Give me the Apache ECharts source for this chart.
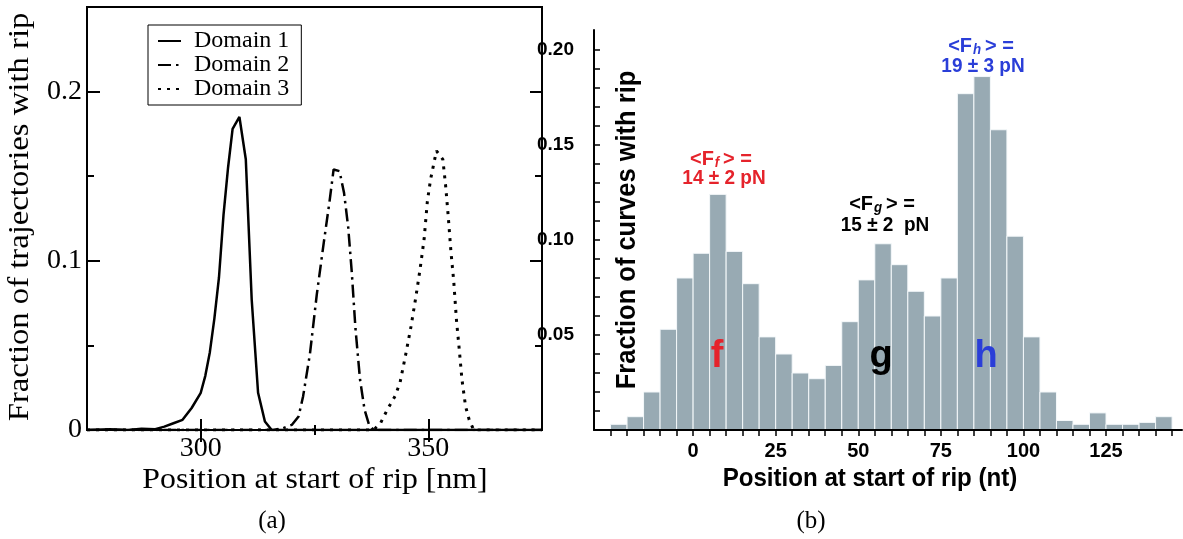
<!DOCTYPE html>
<html><head><meta charset="utf-8">
<script src="https://cdn.jsdelivr.net/npm/echarts@6/dist/echarts.min.js"></script>
<style>html,body{margin:0;padding:0;background:#fff}#c{width:1183px;height:539px}</style>
</head><body><div id="c"></div>
<script>
// ---------- (a) rip-position distributions: [position nm, fraction] ----------
const domain1 = [[275,0],[280,0.0005],[284,0],[287,0.0008],[290,0.0005],[292,0.002],[294,0.004],[296,0.006],[298,0.013],[300,0.022],[301,0.032],[302,0.046],[303,0.066],[304,0.09],[305,0.127],[306,0.155],[307,0.178],[308.5,0.185],[309.9,0.16],[311.2,0.077],[312.6,0.022],[314.1,0.005],[315.6,0],[375,0]];
const domain2 = [[275,0],[316,0],[318,0.001],[320,0.003],[321.5,0.008],[322.5,0.02],[324,0.045],[325.5,0.08],[327,0.11],[328.3,0.135],[329.2,0.154],[330.5,0.153],[331.5,0.14],[332.4,0.12],[333.2,0.093],[334,0.06],[335,0.03],[336,0.012],[337,0.003],[338,0],[375,0]];
const domain3 = [[275,0],[338,0],[339.5,0.004],[341,0.012],[342.7,0.02],[343.8,0.028],[345,0.044],[346.2,0.061],[347.3,0.079],[348.2,0.095],[349.1,0.113],[349.8,0.135],[350.5,0.148],[351.8,0.165],[353.2,0.16],[353.8,0.145],[354.4,0.126],[355,0.105],[355.6,0.088],[356.2,0.065],[356.8,0.048],[357.4,0.03],[358.2,0.014],[359,0.006],[360,0],[375,0]];
const seriesNamesA = ['Domain 1','Domain 2','Domain 3'];
const xLabelsA = [300, 350];
const xMinorA = [325];
const yLabelsA = [0, 0.1, 0.2];
const yMajorA = [0.1, 0.2];
const yMinorA = [0.05, 0.15];

// ---------- (b) histogram: bin start (nt) and fraction of curves ----------
const binStarts = [-25,-20,-15,-10,-5,0,5,10,15,20,25,30,35,40,45,50,55,60,65,70,75,80,85,90,95,100,105,110,115,120,125,130,135,140];
const fractions = [0.003,0.007,0.020,0.053,0.080,0.093,0.124,0.094,0.077,0.049,0.040,0.030,0.027,0.034,0.057,0.079,0.098,0.087,0.073,0.060,0.080,0.177,0.186,0.158,0.102,0.049,0.020,0.005,0.003,0.009,0.003,0.003,0.004,0.007];
const binWidth = 5;
const xLabelsB = [0, 25, 50, 75, 100, 125];
const yLabelsB = [0.05, 0.10, 0.15, 0.20];
const yTicksB = [0.01,0.02,0.03,0.04,0.05,0.06,0.07,0.08,0.09,0.10,0.11,0.12,0.13,0.14,0.15,0.16,0.17,0.18,0.19,0.20];

const xTicksB = binStarts.concat([binStarts[binStarts.length-1] + binWidth]);
const histData = binStarts.map((s, i) => [s, s + binWidth, fractions[i]]);

const SERIF = 'Liberation Serif';
const SANS = 'Liberation Sans';
const RED = '#e5232b', BLUE = '#2a3ed8';

const chart = echarts.init(document.getElementById('c'), null, {renderer: 'canvas'});

function axA(pos, values, len, labels) {
  const vertical = pos === 'left' || pos === 'right';
  return {
    gridIndex: 0, type: 'value', min: vertical ? 0 : 275, max: vertical ? 0.25 : 375, position: pos,
    axisLine: {show: false}, splitLine: {show: false},
    axisTick: {show: true, inside: true, length: len, customValues: values, lineStyle: {color: '#000', width: 2}},
    axisLabel: labels ? {show: true, customValues: labels, fontFamily: SERIF, fontSize: 28, color: '#000', margin: 5,
      formatter: v => (v === 0 ? '0' : String(+v.toFixed(2)))} : {show: false}
  };
}

function annot(x, y, sub, color) {
  return {type: 'text', x: x, y: y, scaleX: 0.95, z: 10, style: {text: '{a|<F}{s|' + sub + '}{a|> =}', align: 'center', verticalAlign: 'middle',
    fill: color,
    rich: {a: {fontFamily: SANS, fontWeight: 'bold', fontSize: 21, fill: color, color: color, lineHeight: 22, verticalAlign: 'middle'},
           s: {fontFamily: SANS, fontWeight: 'bold', fontStyle: 'italic', fontSize: 14, fill: color, color: color, lineHeight: 13, verticalAlign: 'bottom', padding: [0, 4, 0, 1]}}}};
}
function txt(x, y, s, size, color, extra) {
  return Object.assign({type: 'text', x: x, y: y, z: 10,
    style: {text: s, fontFamily: SANS, fontWeight: 'bold', fontSize: size, fill: color, align: 'center', verticalAlign: 'middle'}}, extra || {});
}

const option = {
  animation: false,
  backgroundColor: '#fff',
  grid: [
    {left: 87, top: 7, width: 455, height: 423, show: true, borderColor: '#000', borderWidth: 2, backgroundColor: 'transparent'},
    {left: 594, top: 30, width: 588, height: 400, show: false}
  ],
  legend: {
    data: seriesNamesA, left: 148, top: 25, orient: 'vertical', itemGap: 0, itemWidth: 23, itemHeight: 2,
    padding: [4, 12, 4, 9], borderColor: '#000', borderWidth: 1, backgroundColor: '#fff', selectedMode: false,
    itemStyle: {opacity: 0},
    textStyle: {fontFamily: SERIF, fontSize: 24, color: '#000', lineHeight: 24, padding: [0, 0, 0, 8]}
  },
  xAxis: [
    axA('bottom', xLabelsA, 11, xLabelsA),
    axA('bottom', xMinorA, 5, null),
    axA('top', xLabelsA, 12, null),
    axA('top', xMinorA, 5, null),
    {
      gridIndex: 1, type: 'value', min: -30, max: 148, position: 'bottom', z: 5,
      axisLine: {show: true, onZero: false, lineStyle: {color: '#000', width: 2}},
      splitLine: {show: false},
      axisTick: {show: true, inside: false, length: 6, customValues: xTicksB, lineStyle: {color: '#000', width: 1.5}},
      axisLabel: {show: true, customValues: xLabelsB, fontFamily: SANS, fontWeight: 'bold', fontSize: 20, color: '#000', margin: 11}
    }
  ],
  yAxis: [
    axA('left', yMajorA, 13, yLabelsA),
    axA('left', yMinorA, 7, null),
    axA('right', yMajorA, 12, null),
    axA('right', yMinorA, 7, null),
    {
      gridIndex: 1, type: 'value', min: 0, max: 0.2105, position: 'left', z: 5,
      axisLine: {show: true, onZero: false, lineStyle: {color: '#000', width: 2}},
      splitLine: {show: false},
      axisTick: {show: true, inside: true, length: 6, customValues: yTicksB, lineStyle: {color: '#000', width: 1.5}},
      axisLabel: {show: true, customValues: yLabelsB, fontFamily: SANS, fontWeight: 'bold', fontSize: 19, color: '#000', margin: 20,
        formatter: v => v.toFixed(2)}
    }
  ],
  series: [
    {name: seriesNamesA[0], type: 'line', xAxisIndex: 0, yAxisIndex: 0, data: domain1, symbol: 'none',
      lineStyle: {color: '#000', width: 2.5, type: 'solid'}, itemStyle: {color: '#000'}},
    {name: seriesNamesA[1], type: 'line', xAxisIndex: 0, yAxisIndex: 0, data: domain2, symbol: 'none',
      lineStyle: {color: '#000', width: 2.5, type: [13, 5, 2.5, 5]}, itemStyle: {color: '#000'}},
    {name: seriesNamesA[2], type: 'line', xAxisIndex: 0, yAxisIndex: 0, data: domain3, symbol: 'none',
      lineStyle: {color: '#000', width: 3, type: [3, 6]}, itemStyle: {color: '#000'}},
    {
      type: 'custom', xAxisIndex: 4, yAxisIndex: 4, data: histData, z: 1,
      encode: {x: [0, 1], y: 2},
      renderItem: function (params, api) {
        const p0 = api.coord([api.value(0), 0]);
        const p1 = api.coord([api.value(1), api.value(2)]);
        return {type: 'rect', shape: {x: p0[0], y: p1[1], width: p1[0] - p0[0], height: p0[1] - p1[1]},
          style: {fill: '#98aab3', stroke: '#f4f8fa', lineWidth: 1}};
      }
    }
  ],
  graphic: [
    {type: 'text', x: 20, y: 217, rotation: Math.PI / 2, scaleX: 1.09,
      style: {text: 'Fraction of trajectories with rip', fontFamily: SERIF, fontSize: 30, fill: '#000', align: 'center', verticalAlign: 'middle'}},
    {type: 'text', x: 315, y: 480, scaleX: 1.06,
      style: {text: 'Position at start of rip [nm]', fontFamily: SERIF, fontSize: 30, fill: '#000', align: 'center', verticalAlign: 'middle'}},
    {type: 'text', x: 272, y: 521, style: {text: '(a)', fontFamily: SERIF, fontSize: 25, fill: '#000', align: 'center', verticalAlign: 'middle'}},
    {type: 'text', x: 811, y: 521, style: {text: '(b)', fontFamily: SERIF, fontSize: 25, fill: '#000', align: 'center', verticalAlign: 'middle'}},
    txt(627, 230, 'Fraction of curves with rip', 28, '#000', {rotation: Math.PI / 2, scaleX: 0.91}),
    txt(870, 479, 'Position at start of rip (nt)', 26.5, '#000', {scaleX: 0.91}),
    annot(721, 159, 'f', RED),
    txt(724, 178, '14 \u00b1 2 pN', 20, RED, {scaleX: 0.95}),
    annot(882, 204, 'g', '#000'),
    txt(885, 225, '15 \u00b1 2  pN', 20, '#000', {scaleX: 0.95}),
    annot(981, 46, 'h', BLUE),
    txt(983, 66, '19 \u00b1 3 pN', 20, BLUE, {scaleX: 0.95}),
    txt(717, 357, 'f', 38, RED),
    txt(881, 357, 'g', 38, '#000'),
    txt(986, 357, 'h', 38, BLUE)
  ]
};
chart.setOption(option);
</script>
</body></html>
